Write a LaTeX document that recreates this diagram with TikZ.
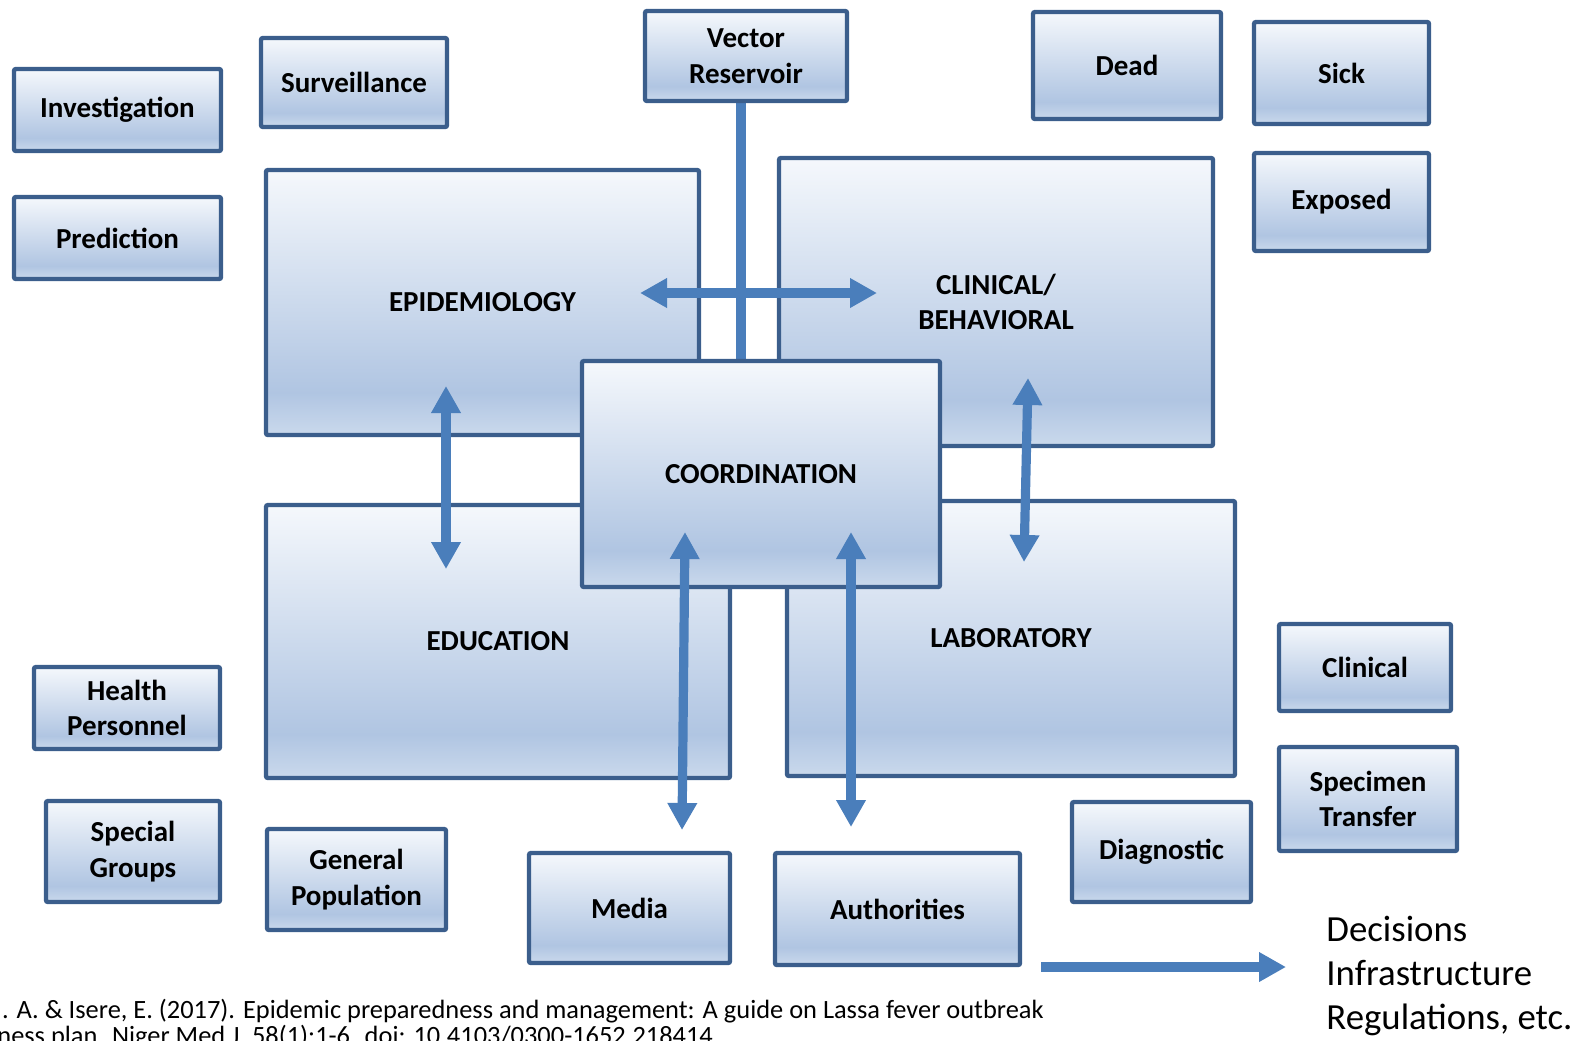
\documentclass[tikz,border=0pt]{standalone}
\usepackage{fontspec}
\setmainfont{Carlito}
\usetikzlibrary{arrows.meta}

\definecolor{boxline}{RGB}{59,94,140}
\definecolor{linkblue}{RGB}{74,126,187}
\definecolor{shadetop}{RGB}{245,248,252}
\definecolor{shademid}{RGB}{176,197,226}
\definecolor{shadebot}{RGB}{202,217,236}
\pgfdeclareverticalshading{boxshade}{100bp}{color(0bp)=(shadebot); color(25bp)=(shadebot); color(33bp)=(shademid); color(75bp)=(shadetop); color(100bp)=(shadetop)}

\begin{document}
\begin{tikzpicture}[x=0.5pt,y=0.5pt,yscale=-1,
  box/.style={draw=boxline, line width=2.2pt, rounded corners=1pt, shading=boxshade,
    inner sep=0pt, align=center, font=\fontsize{14.5}{17.75}\selectfont\bfseries},
  link/.style={draw=linkblue, line width=4.6pt},
  biarrow/.style={link, {Triangle[length=13.5pt,width=14pt]}-{Triangle[length=13.5pt,width=14pt]}}]
\useasboundingbox (0,0) rectangle (1588,1040);
\clip (0,0) rectangle (1588,1040);

% big boxes
\node (epi) [box, minimum width=216.5pt, minimum height=132.5pt] at (482.5,302.5) {EPIDEMIOLOGY};
\node (clin) [box, minimum width=217pt, minimum height=144pt] at (996,302) {CLINICAL/\\BEHAVIORAL};
\node (edu) [box, minimum width=232pt, minimum height=136.5pt] at (498,641.5) {EDUCATION};
\node (lab) [box, minimum width=224pt, minimum height=137.5pt] at (1011,638.5) {LABORATORY};

% vector line
\coordinate (vtop) at (741,103);
\coordinate (vbot) at (741,359);
\draw [link] (vtop) -- (vbot);

\node (coord) [box, minimum width=179pt, minimum height=113pt] at (761,474) {COORDINATION};

% arrows between boxes
\coordinate (epiR) at (640,293);
\coordinate (clinL) at (877,293);
\draw [biarrow] (epiR) -- (clinL);
\coordinate (epiB) at (446,386);
\coordinate (eduT) at (446,569);
\draw [biarrow] (epiB) -- (eduT);
\coordinate (clinB) at (1028,378);
\coordinate (labT) at (1024,562);
\draw [biarrow] (clinB) -- (labT);
\coordinate (coordM) at (685,532);
\coordinate (mediaT) at (682,830);
\draw [biarrow] (coordM) -- (mediaT);
\coordinate (coordA) at (851,532);
\coordinate (authT) at (851,827);
\draw [biarrow] (coordA) -- (authT);

% small boxes
\node (inv) [box, minimum width=103.5pt, minimum height=41pt] at (117.5,110) {Investigation};
\node (surv) [box, minimum width=93pt, minimum height=44.5pt] at (354,82.5) {Surveillance};
\node (pred) [box, minimum width=103.5pt, minimum height=41pt] at (117.5,238) {Prediction};
\node (vec) [box, minimum width=101pt, minimum height=45pt] at (746,56) {Vector\\Reservoir};
\node (dead) [box, minimum width=94pt, minimum height=53.5pt] at (1127,65.5) {Dead};
\node (sick) [box, minimum width=87.5pt, minimum height=51pt] at (1341.5,73) {Sick};
\node (exp) [box, minimum width=87.5pt, minimum height=49pt] at (1341.5,202) {Exposed};
\node (clinc) [box, minimum width=86pt, minimum height=43.5pt] at (1365,667.5) {Clinical};
\node (spec) [box, minimum width=89pt, minimum height=52pt] at (1368,799) {Specimen\\Transfer};
\node (diag) [box, minimum width=89.5pt, minimum height=50pt] at (1161.5,852) {Diagnostic};
\node (hp) [box, minimum width=93pt, minimum height=41pt] at (127,708) {Health\\Personnel};
\node (sg) [box, minimum width=87pt, minimum height=50.5pt] at (133,851.5) {Special\\Groups};
\node (gp) [box, minimum width=89.5pt, minimum height=50.5pt] at (356.5,879.5) {General\\Population};
\node (media) [box, minimum width=100.5pt, minimum height=55pt] at (629.5,908) {Media};
\node (auth) [box, minimum width=122.5pt, minimum height=56pt] at (897.5,909) {Authorities};

% outcome
\coordinate (outL) at (1041,967);
\coordinate (outR) at (1286,967);
\draw [link, -{Triangle[length=13.5pt,width=14pt]}] (outL) -- (outR);
\node (out) [anchor=west, inner sep=0pt, align=left, font=\fontsize{18.4}{22.2}\selectfont] at (1326,976) {Decisions\\Infrastructure\\Regulations, etc.};

% citation
\node (cite1) [anchor=base east, inner sep=0pt, font=\fontsize{13.2}{13.2}\selectfont] at (1044,1018) {. A. \& Isere, E. (2017). Epidemic preparedness and management: A guide on Lassa fever outbreak};
\node (cite2) [anchor=base west, inner sep=0pt, font=\fontsize{13.2}{13.2}\selectfont] at (-3,1044) {ness plan. Niger Med J. 58(1):1-6. doi: 10.4103/0300-1652.218414};

\end{tikzpicture}
\end{document}
